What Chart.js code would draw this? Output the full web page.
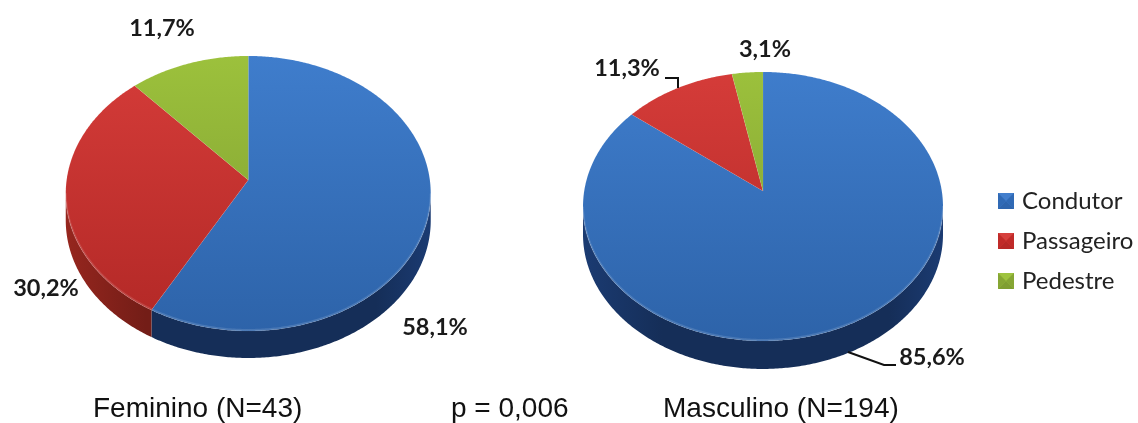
<!DOCTYPE html>
<html lang="pt">
<head>
<meta charset="utf-8">
<title>Feminino e Masculino</title>
<script src="https://cdn.jsdelivr.net/npm/chart.js@4"></script>
<style>
  html, body { margin: 0; background: #fff; }
  #stage { position: relative; width: 1138px; height: 423px; overflow: hidden; background: #fff; }
  canvas { position: absolute; top: -40px; }
  .note { position: absolute; top: 393px; font: 28px "Liberation Sans", Arial, sans-serif; color: #111; white-space: nowrap; line-height: 30px; }
</style>
</head>
<body>
<div id="stage">
  <canvas id="feminino" width="560" height="463" style="left:0"></canvas>
  <canvas id="masculino" width="578" height="463" style="left:560px"></canvas>
  <div class="note" style="left:93px">Feminino (N=43)</div>
  <div class="note" style="left:451px">p = 0,006</div>
  <div class="note" style="left:663px">Masculino (N=194)</div>
</div>
<script>
const categories = ['Condutor', 'Passageiro', 'Pedestre'];
const femininoValues = [58.1, 30.2, 11.7];
const masculinoValues = [85.6, 11.3, 3.1];

const faceColors = ['#3f7dcc', '#d53c39', '#9cc13c'];
const sideColors = ['#152e58', '#731d17', '#5f7a20'];

const formatPercent = v => v.toFixed(1).replace('.', ',') + '%';

// Pie slice seen at an angle: the flat circle is passed through a perspective
// projection and given an extruded wall along its front edge.
class TiltedArc extends Chart.ArcElement {
  static id = 'tiltedArc';
  draw(ctx) {
    const { x, y, startAngle, endAngle, outerRadius: R } =
      this.getProps(['x', 'y', 'startAngle', 'endAngle', 'outerRadius']);
    const view = this.$context.chart.options.plugins.tilt;
    const { lean, squash, depth } = view;
    const widen = Math.sqrt(1 - lean * lean);
    const project = a => {
      const d = 1 - lean * Math.sin(a);
      return [x + R * widen * Math.cos(a) / d, y + R * squash * Math.sin(a) / d];
    };
    const steps = Math.max(2, Math.ceil((endAngle - startAngle) / 0.01));
    const rim = [];
    const front = [];
    for (let i = 0; i <= steps; i++) {
      const a = startAngle + (endAngle - startAngle) * i / steps;
      const p = project(a);
      rim.push(p);
      if (Math.sin(a) >= lean) front.push(p);
    }
    const left = x - R;
    const wall = ctx.createLinearGradient(left, 0, x + R, 0);
    const base = this.options.borderColor;
    const lift = Chart.helpers.color(base).lighten(0.3).rgbString();
    wall.addColorStop(0, lift);
    wall.addColorStop(0.22, base);
    wall.addColorStop(0.85, base);
    wall.addColorStop(1, lift);

    if (front.length > 1) {
      ctx.beginPath();
      front.forEach((p, i) => (i ? ctx.lineTo(p[0], p[1]) : ctx.moveTo(p[0], p[1])));
      for (let i = front.length - 1; i >= 0; i--) ctx.lineTo(front[i][0], front[i][1] + depth);
      ctx.closePath();
      ctx.fillStyle = wall;
      ctx.fill();
    }

    const top = this.options.backgroundColor;
    const face = ctx.createLinearGradient(0, y - R * 0.68, 0, y + R * 0.84);
    face.addColorStop(0, top);
    face.addColorStop(1, Chart.helpers.color(top).darken(0.2).rgbString());
    ctx.beginPath();
    ctx.moveTo(x, y);
    rim.forEach(p => ctx.lineTo(p[0], p[1]));
    ctx.closePath();
    ctx.fillStyle = face;
    ctx.fill();
    ctx.strokeStyle = 'rgba(255,255,255,0.06)';
    ctx.lineWidth = 1;
    ctx.stroke();

    // soft highlight where the face meets the wall
    if (front.length > 1) {
      ctx.beginPath();
      front.forEach((p, i) => (i ? ctx.lineTo(p[0], p[1] - 1) : ctx.moveTo(p[0], p[1] - 1)));
      ctx.strokeStyle = 'rgba(255,255,255,0.13)';
      ctx.lineWidth = 2;
      ctx.stroke();
    }
  }
}

class TiltedPie extends Chart.PieController {
  static id = 'tiltedPie';
  static defaults = { dataElementType: 'tiltedArc' };
}

// Percentage captions and their leader lines, given in page coordinates.
const sliceCaptions = {
  id: 'sliceCaptions',
  afterDatasetsDraw(chart, _args, opts) {
    const { ctx, canvas } = chart;
    const dx = -canvas.offsetLeft;
    const dy = -canvas.offsetTop;
    ctx.save();
    ctx.strokeStyle = '#111';
    ctx.lineWidth = 2;
    (opts.leaders || []).forEach(line => {
      ctx.beginPath();
      line.forEach(([px, py], i) => (i ? ctx.lineTo(px + dx, py + dy) : ctx.moveTo(px + dx, py + dy)));
      ctx.stroke();
    });
    ctx.font = 'bold 23.5px Lato, "Open Sans", sans-serif';
    ctx.fillStyle = '#1a1a1a';
    ctx.textAlign = 'center';
    ctx.textBaseline = 'middle';
    chart.data.datasets[0].data.forEach((v, i) => {
      const [px, py] = opts.anchors[i];
      ctx.fillText(formatPercent(v), px + dx, py + dy);
    });
    ctx.restore();
  }
};

// Moves the overlay legend box to the requested spot.
const legendPlacement = {
  id: 'legendPlacement',
  afterLayout(chart, _args, opts) {
    const box = chart.legend;
    if (!box || !opts.active) return;
    const { width, height } = box;
    box.left = opts.x;
    box.top = opts.y;
    box.right = box.left + width;
    box.bottom = box.top + height;
  }
};

Chart.register(TiltedArc, TiltedPie, sliceCaptions, legendPlacement);

// Small bevelled square used as a legend key.
function legendKey(color) {
  const size = 16;
  const c = document.createElement('canvas');
  c.width = c.height = size;
  const g = c.getContext('2d');
  const shade = (amount, dark) => {
    const col = Chart.helpers.color(color);
    return (dark ? col.darken(amount) : col.lighten(amount)).rgbString();
  };
  g.fillStyle = color;
  g.fillRect(0, 0, size, size);
  const tri = (pts, fill) => {
    g.beginPath();
    pts.forEach((p, i) => (i ? g.lineTo(p[0], p[1]) : g.moveTo(p[0], p[1])));
    g.closePath();
    g.fillStyle = fill;
    g.fill();
  };
  tri([[0, 0], [size, 0], [size / 2, size / 2]], shade(0.02, false));
  tri([[0, size], [size, size], [size / 2, size / 2]], shade(0.18, true));
  tri([[0, 0], [0, size], [size / 2, size / 2]], shade(0.14, true));
  tri([[size, 0], [size, size], [size / 2, size / 2]], shade(0.14, true));
  return c;
}

function buildPie(id, values, padding, tilt, captions, legendOptions, placement) {
  return new Chart(document.getElementById(id), {
    type: 'tiltedPie',
    data: {
      labels: categories,
      datasets: [{
        data: values,
        backgroundColor: faceColors,
        borderColor: sideColors,
        borderWidth: 0
      }]
    },
    options: {
      responsive: false,
      animation: false,
      layout: { padding },
      plugins: {
        tooltip: { enabled: false },
        legend: legendOptions,
        tilt,
        sliceCaptions: captions,
        legendPlacement: placement
      }
    }
  });
}

buildPie('feminino', femininoValues,
  { left: 65.5, right: 129, top: 37.5, bottom: 60.5 },
  { lean: 0.098, squash: 136.2 / 182.5, depth: 27 },
  { anchors: [[435, 327], [46, 288], [162, 28]] },
  { display: false },
  { active: false });

buildPie('masculino', masculinoValues,
  { left: 23, right: 195, top: 51, bottom: 52 },
  { lean: 0.115, squash: 132.7 / 180, depth: 28 },
  {
    anchors: [[932, 357], [627, 68], [765, 49]],
    leaders: [[[848, 352], [884, 365], [896, 365]], [[665, 78], [678, 78], [678, 88]]]
  },
  {
    position: 'chartArea',
    align: 'start',
    labels: {
      usePointStyle: true,
      boxWidth: 8,
      boxHeight: 16,
      padding: 16,
      color: '#222',
      font: { family: 'Lato, "Open Sans", sans-serif', size: 24 },
      generateLabels(chart) {
        const base = Chart.PieController.overrides.plugins.legend.labels.generateLabels(chart);
        return base.map((item, i) => ({ ...item, pointStyle: legendKey(faceColors[i]) }));
      }
    }
  },
  { active: true, x: 426, y: 213 });
</script>
</body>
</html>
